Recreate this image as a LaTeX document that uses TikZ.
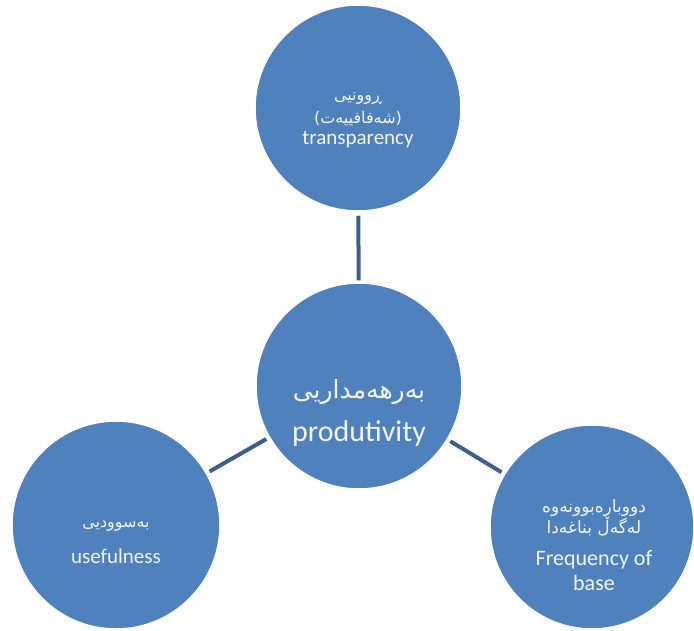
\documentclass[tikz,border=0pt]{standalone}
\usepackage{fontspec}
\setmainfont{Carlito}
\newfontfamily\kufont[Script=Arabic]{DejaVu Sans}
\TeXXeTstate=1
\definecolor{bubfill}{HTML}{4F81BD}
\definecolor{linkc}{HTML}{3D5F8C}
\definecolor{txtc}{HTML}{F2F6FB}
\newcommand\kutext[1]{\beginR #1\endR}
\begin{document}
\begin{tikzpicture}[x=1pt,y=-1pt,
  bub/.style={circle, fill=bubfill, draw=white, line width=1.5pt, minimum size=206pt, inner sep=0pt},
  ku/.style={text=txtc, inner sep=0pt, font=\kufont\fontsize{#1}{#1}\selectfont},
  en/.style={text=txtc, inner sep=0pt, font=\fontsize{#1}{#1}\selectfont},
  link/.style={draw=linkc, line width=4pt}]
\useasboundingbox (0,0) rectangle (694,630);
\node[bub] (top) at (358,108) {};
\node[bub] (mid) at (359,386) {};
\node[bub, minimum size=208pt] (left) at (116,525) {};
\node[bub, minimum size=204pt] (right) at (592,527) {};
\draw[link, shorten <=4pt, shorten >=2pt] (top) -- (mid);
\draw[link, shorten <=3pt, shorten >=3pt] (mid) -- (left);
\draw[link, shorten <=3pt, shorten >=3pt] (mid) -- (right);
\node[ku=16] (top1) at (358,99) {\kutext{ڕوونیی}};
\node[ku=16] (top2) at (358,119) {\kutext{(شەفافییەت)}};
\node[en=21] (top3) at (358,140) {transparency};
\node[ku=25] (mid1) at (359,392) {\kutext{بەرهەمداریی}};
\node[en=30] (mid2) at (359,433) {produtivity};
\node[ku=16] (left1) at (116,526) {\kutext{بەسوودیی}};
\node[en=21] (left2) at (116,556) {usefulness};
\node[ku=17] (right1) at (594,508) {\kutext{دووبارەبوونەوە}};
\node[ku=17] (right2) at (594,527) {\kutext{لەگەڵ بناغەدا}};
\node[en=22] (right3) at (594,560) {Frequency of};
\node[en=22] (right4) at (594,583) {base};
\end{tikzpicture}
\end{document}
